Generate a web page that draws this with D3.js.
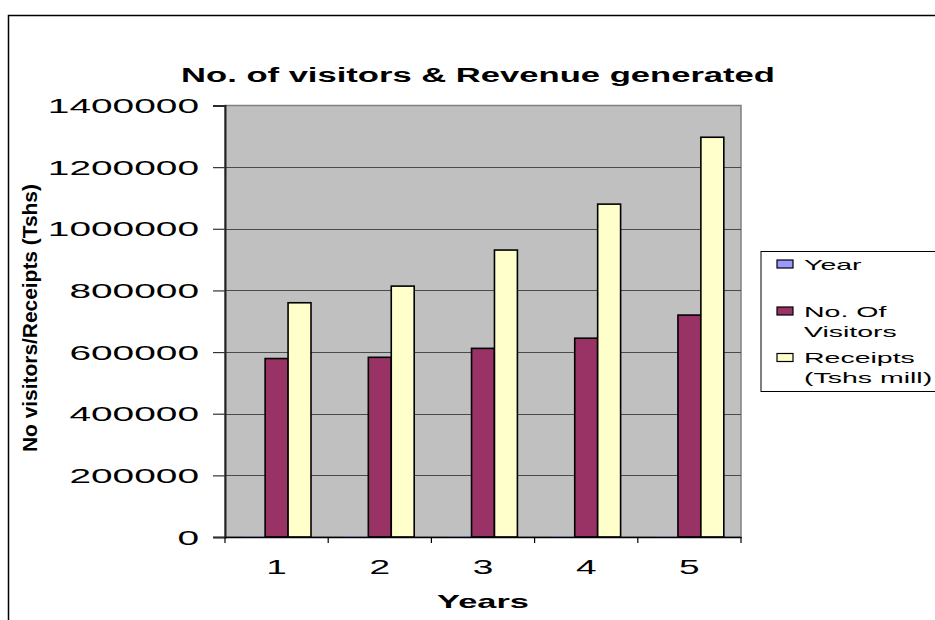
<!DOCTYPE html>
<html>
<head>
<meta charset="utf-8">
<script src="https://cdn.jsdelivr.net/npm/d3@7"></script>
<style>
  html, body { margin: 0; padding: 0; background: #fff; }
  svg { display: block; }
  text { font-family: Arial, "Liberation Sans", sans-serif; fill: #000; }
</style>
</head>
<body>
<svg id="chart" width="935" height="620"></svg>
<script>
// Chart data
const categories = ["1", "2", "3", "4", "5"];
const seriesNames = ["Year", "No. Of Visitors", "Receipts (Tshs mill)"];
const legendLines = [["Year"], ["No. Of", "Visitors"], ["Receipts", "(Tshs mill)"]];
const yearValues = [2003, 2004, 2005, 2006, 2007];
const visitorValues = [579000, 583000, 612000, 645000, 720000];
const receiptValues = [760000, 814000, 931000, 1080000, 1297000];
const yTicks = [0, 200000, 400000, 600000, 800000, 1000000, 1200000, 1400000];
const seriesColors = ["#9999FF", "#993366", "#FFFFCC"];

const titleText = "No. of visitors & Revenue generated";
const xTitle = "Years";
const yTitle = "No visitors/Receipts (Tshs)";

// Text in this chart is drawn wide (horizontal stretch)
const SX = 1.85;

const svg = d3.select("#chart");
const plot = { left: 225, right: 741, top: 105.5, bottom: 537 };

function wideText(g, x, y, str, opts) {
  return g.append("text")
    .attr("transform", `translate(${x},${y}) scale(${opts.sx || SX},1)`)
    .attr("text-anchor", opts.anchor || "start")
    .attr("font-size", opts.size)
    .attr("font-weight", opts.weight || "normal")
    .text(str);
}

// Outer chart frame
svg.append("rect")
  .attr("x", 8.5).attr("y", 15.5)
  .attr("width", 960).attr("height", 640)
  .attr("fill", "#fff").attr("stroke", "#000").attr("stroke-width", 1.5);

// Scales
const x = d3.scaleBand().domain(categories).range([plot.left, plot.right]).paddingInner(0).paddingOuter(0);
const xInner = d3.scaleBand().domain(seriesNames).range([0, x.bandwidth()]).paddingInner(0).paddingOuter(0.75);
const y = d3.scaleLinear().domain([0, 1400000]).range([plot.bottom, plot.top]);

// Plot area
svg.append("rect")
  .attr("x", plot.left).attr("y", plot.top)
  .attr("width", plot.right - plot.left).attr("height", plot.bottom - plot.top)
  .attr("fill", "#C0C0C0").attr("stroke", "#808080").attr("stroke-width", 1.5);

// Gridlines
svg.append("g")
  .selectAll("line")
  .data(yTicks.filter(v => v > 0 && v < 1400000))
  .join("line")
  .attr("x1", plot.left).attr("x2", plot.right)
  .attr("y1", d => Math.round(y(d)) + 0.5).attr("y2", d => Math.round(y(d)) + 0.5)
  .attr("stroke", "#4a4a4a").attr("stroke-width", 1);

// Bars
const series = [yearValues, visitorValues, receiptValues];
const groups = svg.append("g");
series.forEach((vals, si) => {
  groups.append("g")
    .selectAll("rect")
    .data(vals.map((v, i) => ({ cat: categories[i], v })))
    .join("rect")
    .attr("x", d => x(d.cat) + xInner(seriesNames[si]))
    .attr("y", d => y(d.v))
    .attr("width", xInner.bandwidth())
    .attr("height", d => y(0) - y(d.v))
    .attr("fill", seriesColors[si])
    .attr("stroke", si === 0 ? "none" : "#000")
    .attr("stroke-width", 1.6);
});

// Y axis
const yAxis = d3.axisLeft(y).tickValues(yTicks).tickSize(12).tickFormat(d3.format("d"));
const yg = svg.append("g").attr("transform", `translate(${plot.left},0)`).call(yAxis);
yg.select(".domain").attr("stroke", "#222").attr("stroke-width", 2);
yg.selectAll(".tick line").attr("stroke", "#333").attr("stroke-width", 1.2);
yg.selectAll(".tick text").remove();
yTicks.forEach(v => {
  wideText(svg, 199, y(v) + 7.5, d3.format("d")(v), { anchor: "end", size: 21 });
});

// X axis
const xAxis = d3.axisBottom(x).tickSize(0).tickFormat("");
const xg = svg.append("g").attr("transform", `translate(0,${plot.bottom})`).call(xAxis);
xg.select(".domain").attr("stroke", "#000").attr("stroke-width", 1.5);
xg.selectAll(".tick").remove();
const boundaries = categories.map(c => x(c)).concat([x(categories[categories.length - 1]) + x.bandwidth()]);
svg.append("g").selectAll("line").data(boundaries).join("line")
  .attr("x1", d => d).attr("x2", d => d)
  .attr("y1", plot.bottom).attr("y2", plot.bottom + 6)
  .attr("stroke", "#000").attr("stroke-width", 1.2);
categories.forEach(c => {
  wideText(svg, x(c) + x.bandwidth() / 2, 574, c, { anchor: "middle", size: 20 });
});

// Titles
wideText(svg, (plot.left + plot.right) / 2 - 5, 82, titleText, { anchor: "middle", size: 20, weight: "bold", sx: 1.73 });
wideText(svg, (plot.left + plot.right) / 2, 608, xTitle, { anchor: "middle", size: 18.6, weight: "bold" });

svg.append("text")
  .attr("transform", `translate(37,318) rotate(-90)`)
  .attr("text-anchor", "middle")
  .attr("font-size", 21)
  .attr("font-weight", "bold")
  .attr("textLength", 268)
  .attr("lengthAdjust", "spacing")
  .text(yTitle);

// Legend
const legend = svg.append("g");
legend.append("rect")
  .attr("x", 761).attr("y", 251.5)
  .attr("width", 200).attr("height", 140)
  .attr("fill", "#fff").attr("stroke", "#000").attr("stroke-width", 1);
const legendRows = [264, 311, 357.5];
seriesNames.forEach((name, i) => {
  legend.append("rect")
    .attr("x", 777).attr("y", legendRows[i] - 4)
    .attr("width", 16).attr("height", 8)
    .attr("fill", seriesColors[i]).attr("stroke", "#000").attr("stroke-width", 1.2);
  legendLines[i].forEach((line, j) => {
    wideText(legend, 804, legendRows[i] + 5.5 + j * 20, line, { size: 15.4 });
  });
});
</script>
</body>
</html>
